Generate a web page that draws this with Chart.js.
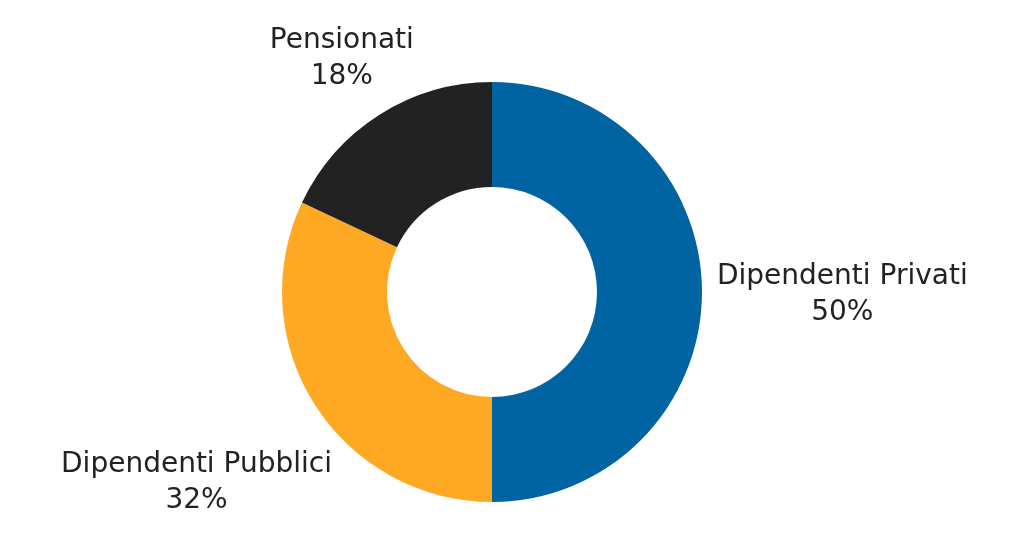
<!DOCTYPE html>
<html>
<head>
<meta charset="utf-8">
<script src="https://cdn.jsdelivr.net/npm/chart.js@4/dist/chart.umd.min.js"></script>
<style>
  html, body { margin: 0; padding: 0; background: #fff; }
  #wrap { width: 1024px; height: 538px; position: relative; }
</style>
</head>
<body>
<div id="wrap"><canvas id="pie"></canvas></div>
<script>
// Values
const categories = ['Dipendenti Privati', 'Dipendenti Pubblici', 'Pensionati'];
const shares = [50, 32, 18];
const percentLabels = ['50%', '32%', '18%'];
const colors = ['#0063a2', '#ffa823', '#222222'];

const FONT = '28px "DejaVu Sans", sans-serif';
const LINE_H = 36;

// draw the two-line labels outside each slice
const outsideLabels = {
    id: 'outsideLabels',
    afterDraw(chart) {
        const c = chart.ctx;
        const meta = chart.getDatasetMeta(0);
        c.save();
        c.font = FONT;
        c.fillStyle = '#222222';
        c.textAlign = 'center';
        c.textBaseline = 'middle';
        meta.data.forEach((arc, i) => {
            const mid = (arc.startAngle + arc.endAngle) / 2;
            const dx = Math.cos(mid), dy = Math.sin(mid);
            const w = Math.max(c.measureText(categories[i]).width, c.measureText(percentLabels[i]).width);
            const halfW = w / 2, halfH = LINE_H;
            // push the label box out until it clears the ring by a small gap
            const dist = arc.outerRadius + 15 + halfW * Math.abs(dx) + halfH * Math.abs(dy) * 0.55;
            const x = arc.x + dx * dist;
            const y = arc.y + dy * dist + 3;
            c.fillText(categories[i], x, y - LINE_H / 2);
            c.fillText(percentLabels[i], x, y + LINE_H / 2);
        });
        c.restore();
    }
};

new Chart(document.getElementById('pie'), {
    type: 'doughnut',
    data: {
        labels: categories,
        datasets: [{
            data: shares,
            backgroundColor: colors,
            borderWidth: 0
        }]
    },
    options: {
        responsive: true,
        maintainAspectRatio: false,
        animation: false,
        cutout: '50%',
        layout: { padding: { top: 82, bottom: 36, left: 0, right: 40 } },
        plugins: {
            legend: { display: false },
            tooltip: { enabled: false }
        }
    },
    plugins: [outsideLabels]
});
</script>
</body>
</html>
